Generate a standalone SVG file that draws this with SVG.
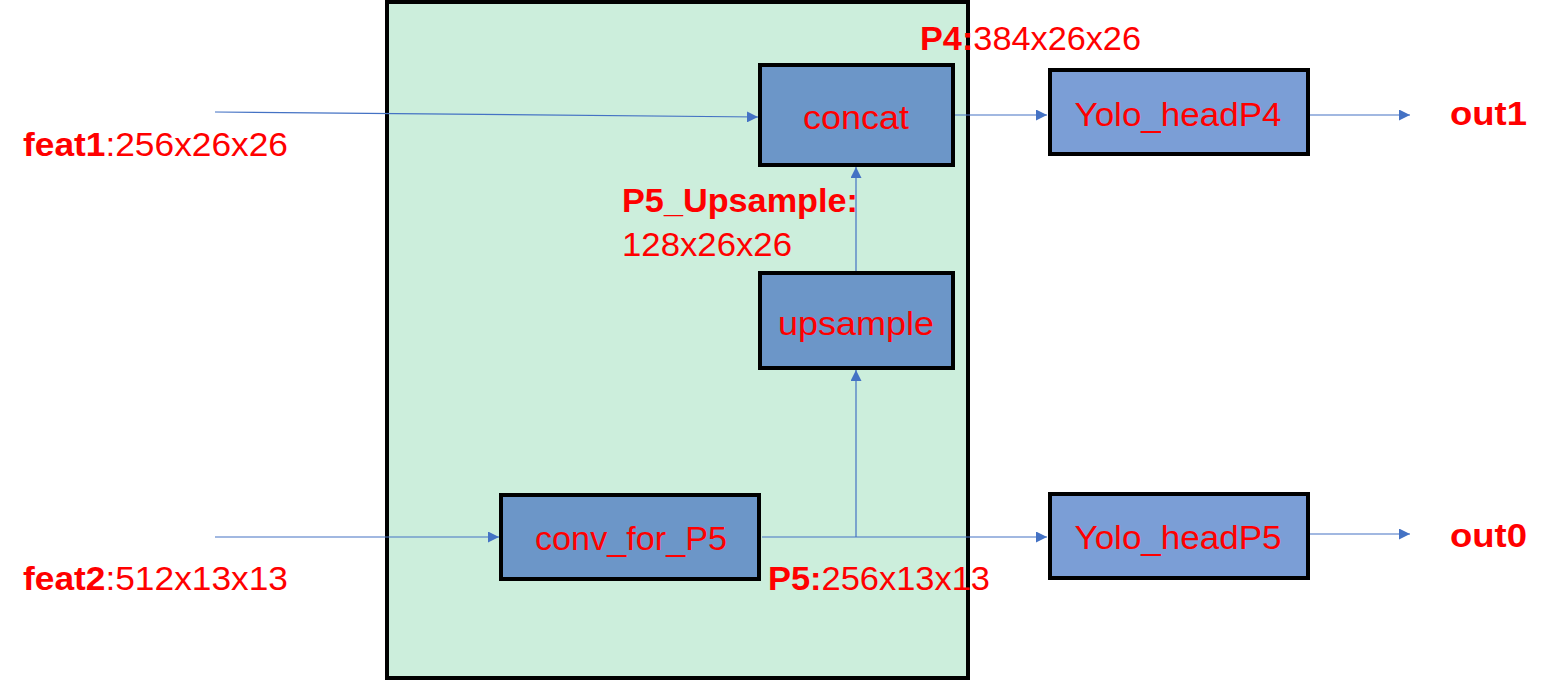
<svg xmlns="http://www.w3.org/2000/svg" width="1557" height="680" viewBox="0 0 1557 680">
<style>
.node{fill:#6C96C8;stroke:#000;stroke-width:4}
.head{fill:#7B9ED6;stroke:#000;stroke-width:4}
.lbl{font-family:"Liberation Sans","Noto Sans",Arial,sans-serif;font-size:34px;fill:#FF0000;text-anchor:middle}
.t{font-family:"Liberation Sans","Noto Sans",Arial,sans-serif;font-size:34px;fill:#FF0000}
.b{font-weight:bold}
.c{stroke:#4472C4;stroke-width:1.2;fill:none;marker-end:url(#ah)}
</style>
<defs>
<marker id="ah" viewBox="0 0 10 10" refX="10" refY="5" markerWidth="11" markerHeight="11" markerUnits="userSpaceOnUse" orient="auto">
<path d="M0,0 L10,5 L0,10 z" fill="#4472C4"/>
</marker>
</defs>
<rect width="1557" height="680" fill="#FFFFFF"/>
<g id="container"><rect x="387" y="2" width="581" height="676" fill="#CCEEDC" stroke="#000" stroke-width="4"/></g>
<g id="connectors">
<path class="c" d="M215,112 L758,117"/>
<path class="c" d="M215,537 L499,537"/>
<path class="c" d="M762,537 L1047,537"/>
<path class="c" d="M856,537 L856,370"/>
<path class="c" d="M856,273 L856,167"/>
<path class="c" d="M953,115 L1047,115"/>
<path class="c" d="M1309,115 L1410,115"/>
<path class="c" d="M1309,534 L1410,534"/>
</g>
<g id="concat"><rect class="node" x="760" y="65" width="193" height="100"/><text class="lbl" x="856" y="129" textLength="106" lengthAdjust="spacingAndGlyphs">concat</text></g>
<g id="upsample"><rect class="node" x="760" y="273" width="193" height="95"/><text class="lbl" x="856" y="335" textLength="156" lengthAdjust="spacingAndGlyphs">upsample</text></g>
<g id="conv_for_P5"><rect class="node" x="501" y="495" width="258" height="84"/><text class="lbl" x="631" y="550" textLength="192" lengthAdjust="spacingAndGlyphs">conv_for_P5</text></g>
<g id="yolo_headP4"><rect class="head" x="1050" y="70" width="258" height="84"/><text class="lbl" x="1178" y="126" textLength="207" lengthAdjust="spacingAndGlyphs">Yolo_headP4</text></g>
<g id="yolo_headP5"><rect class="head" x="1050" y="494" width="258" height="84"/><text class="lbl" x="1178" y="549" textLength="207" lengthAdjust="spacingAndGlyphs">Yolo_headP5</text></g>
<g id="labels">
<text class="t" x="920" y="50" textLength="221" lengthAdjust="spacingAndGlyphs"><tspan class="b">P4:</tspan>384x26x26</text>
<text class="t" x="23" y="156" textLength="265" lengthAdjust="spacingAndGlyphs"><tspan class="b">feat1</tspan>:256x26x26</text>
<text class="t b" x="622" y="212" textLength="236" lengthAdjust="spacingAndGlyphs">P5_Upsample:</text>
<text class="t" x="622" y="256" textLength="170" lengthAdjust="spacingAndGlyphs">128x26x26</text>
<text class="t" x="23" y="590" textLength="265" lengthAdjust="spacingAndGlyphs"><tspan class="b">feat2</tspan>:512x13x13</text>
<text class="t" x="768" y="590" textLength="222" lengthAdjust="spacingAndGlyphs"><tspan class="b">P5:</tspan>256x13x13</text>
<text class="t b" x="1450" y="125" textLength="77" lengthAdjust="spacingAndGlyphs">out1</text>
<text class="t b" x="1450" y="547" textLength="77" lengthAdjust="spacingAndGlyphs">out0</text>
</g>
</svg>
